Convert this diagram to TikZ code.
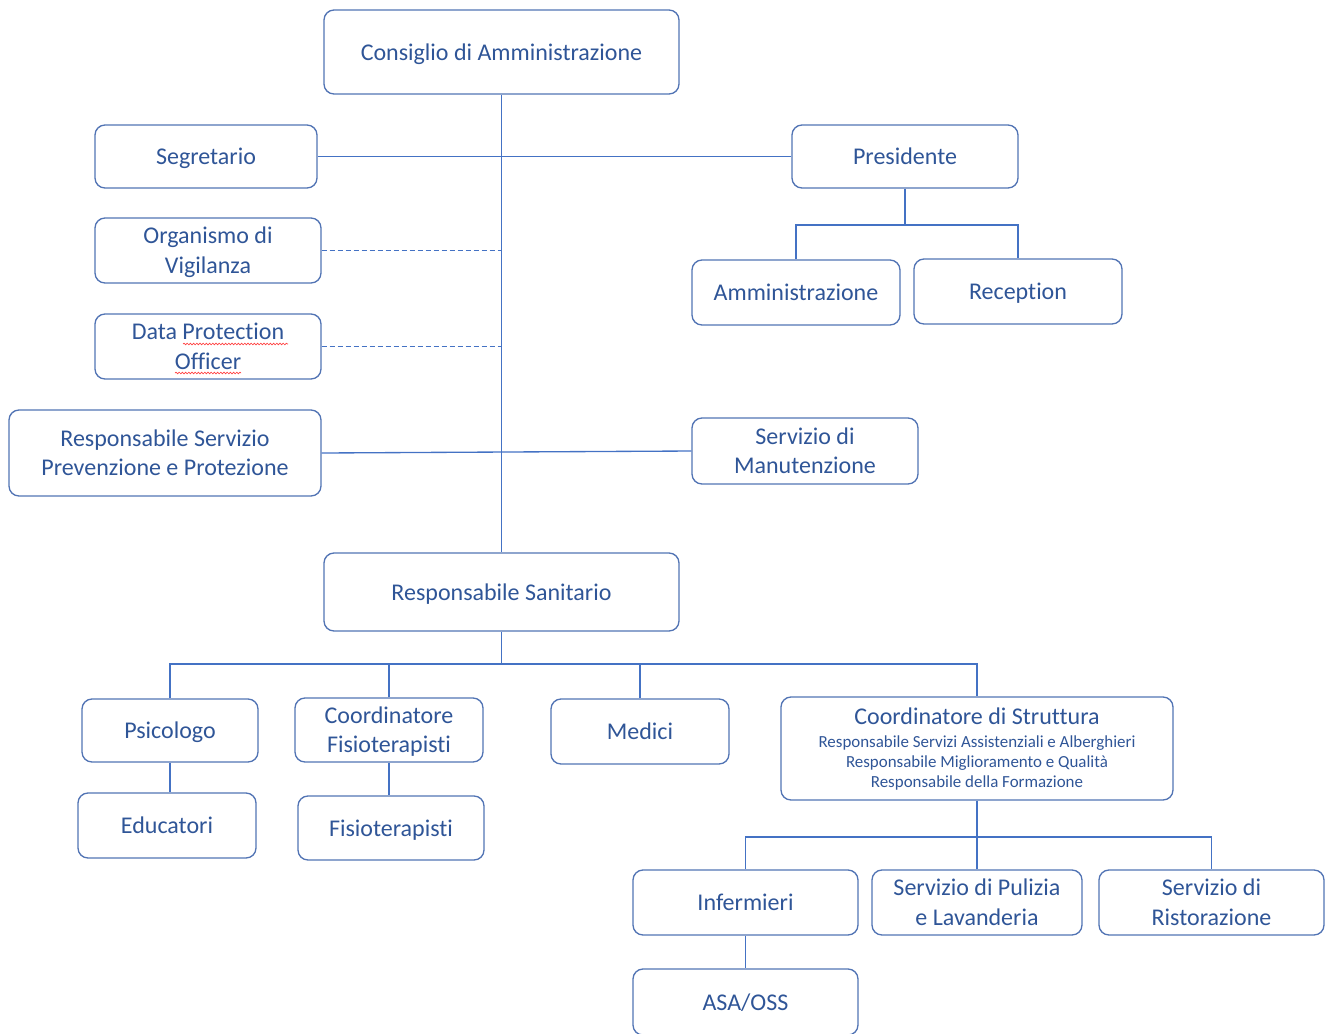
\documentclass[tikz,border=0pt]{standalone}
\usepackage{fontspec}
\setmainfont{Carlito}[Ligatures=NoCommon]
\usetikzlibrary{decorations.pathmorphing}
\definecolor{txt}{RGB}{47,85,151}
\definecolor{bord}{RGB}{82,116,180}
\definecolor{ln}{RGB}{68,114,196}
\tikzset{
  box/.style={draw=bord, line width=1pt, rounded corners=7.5pt, text=txt, align=center, inner sep=0pt,
    font=\fontsize{18}{22}\selectfont, text height=15pt, text depth=3pt},
  two/.style={text height=37pt, text depth=3pt},
  sz/.style 2 args={minimum width=#1*0.75pt, minimum height=#2*0.75pt},
  conn/.style={draw=ln, line width=1pt},
  squig/.style={draw=red!75, line width=0.5pt, decorate, decoration={snake, amplitude=0.6pt, segment length=2.4pt}}
}
\begin{document}
\begin{tikzpicture}[x=0.75pt,y=-0.75pt]
\useasboundingbox (0,0) rectangle (1329,1033);
% nodes
\node[box, sz={355}{84}] (cda) at (501.5,52) {Consiglio di Amministrazione};
\node[box, sz={222}{63}] (seg) at (206,156.5) {Segretario};
\node[box, sz={226}{63}] (pres) at (905,156.5) {Presidente};
\node[box, two, sz={226}{65}] (odv) at (208,250.5) {Organismo di\\Vigilanza};
\node[box, two, sz={226}{65}] (dpo) at (208,346.5) {Data Protection\\Officer};
\node[box, two, sz={312}{86}] (rspp) at (165,453) {Responsabile Servizio\\Prevenzione e Protezione};
\node[box, sz={208}{65}] (amm) at (796,292.5) {Amministrazione};
\node[box, sz={208}{65}] (rec) at (1018,291.5) {Reception};
\node[box, two, sz={226}{66}] (man) at (805,451) {Servizio di\\Manutenzione};
\node[box, sz={355}{78}] (rs) at (501.5,592) {Responsabile Sanitario};
\node[box, sz={176}{63}] (psi) at (170,730.5) {Psicologo};
\node[box, two, sz={188}{64}] (cfis) at (389,730) {Coordinatore\\Fisioterapisti};
\node[box, sz={178}{65}] (med) at (640,731.5) {Medici};
\node[box, sz={392}{103}, text height=62.3pt, text depth=3.1pt] (cst) at (977,748.5) {Coordinatore di Struttura\\[-5.3pt]
  {\fontsize{12.7}{15.4}\selectfont Responsabile Servizi Assistenziali e Alberghieri}\\[-6.7pt]
  {\fontsize{12.7}{15.4}\selectfont Responsabile Miglioramento e Qualità}\\[-6.7pt]
  {\fontsize{12.7}{15.4}\selectfont Responsabile della Formazione}};
\node[box, sz={178}{65}] (edu) at (167,825.5) {Educatori};
\node[box, sz={186}{64}] (fis) at (391,828) {Fisioterapisti};
\node[box, sz={225}{65}] (inf) at (745.5,902.5) {Infermieri};
\node[box, two, sz={210}{65}] (pul) at (977,902.5) {Servizio di Pulizia\\e Lavanderia};
\node[box, two, sz={225}{65}] (ris) at (1211.5,902.5) {Servizio di\\Ristorazione};
\node[box, sz={225}{66}] (asa) at (745.5,1002) {ASA/OSS};
% spell-check squiggles
\draw[squig] (183,344) -- (288,344);
\draw[squig] (175,373) -- (241,373);
% connectors
\coordinate (pb) at (905,225);
\coordinate (rsb) at (501.5,664);
\coordinate (csb) at (977,837);
\draw[conn] (cda.south) -- (rs.north);
\draw[conn] (seg.east) -- (pres.west);
\draw[conn, dashed, dash pattern=on 4pt off 2pt] (odv.east) -- (odv.east -| cda.south);
\draw[conn, dashed, dash pattern=on 4pt off 2pt] (dpo.east) -- (dpo.east -| cda.south);
\draw[conn] (rspp.east) -- (man.west);
\draw[conn] (pres.south) -- (pb);
\draw[conn] (amm.north) |- (pb) -| (rec.north);
\draw[conn] (rs.south) -- (rsb);
\draw[conn] (psi.north) |- (rsb) -| (cst.north);
\draw[conn] (cfis.north) -- (cfis.north |- rsb);
\draw[conn] (med.north) -- (med.north |- rsb);
\draw[conn] (psi.south) -- (psi.south |- edu.north);
\draw[conn] (cfis.south) -- (cfis.south |- fis.north);
\draw[conn] (cst.south) -- (csb);
\draw[conn] (inf.north) |- (csb) -| (ris.north);
\draw[conn] (pul.north) -- (pul.north |- csb);
\draw[conn] (inf.south) -- (asa.north);
\end{tikzpicture}
\end{document}
